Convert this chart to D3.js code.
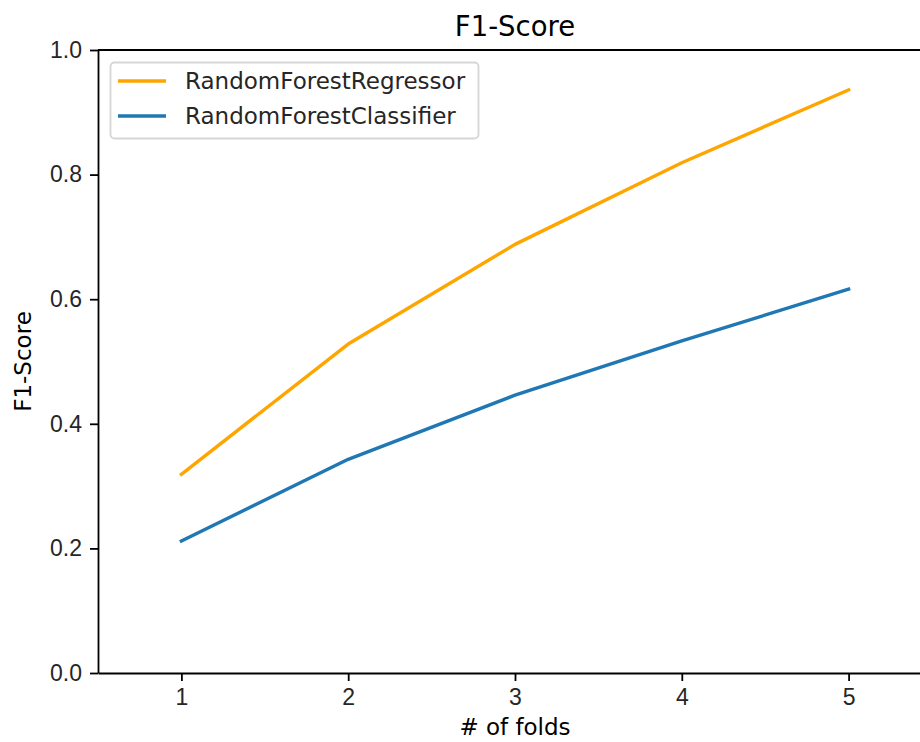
<!DOCTYPE html>
<head>
  <meta charset="utf-8">
  <script src="https://d3js.org/d3.v7.min.js"></script>
  <style>
    body { margin: 0; background: #fff; }
    svg { display: block; font-family: "DejaVu Sans", sans-serif; }
    .axis text { font-size: 23px; fill: #262626; }
    .axis path, .axis line { stroke: #000; stroke-width: 1.8px; }
  </style>
</head>
<body>
  <svg width="920" height="742"></svg>
  <script>
    // data
    var folds = [1, 2, 3, 4, 5];
    var regressorF1 = [0.319, 0.528, 0.688, 0.819, 0.936];
    var classifierF1 = [0.212, 0.343, 0.446, 0.533, 0.616];
    var yTicks = [0, 0.2, 0.4, 0.6, 0.8, 1.0];
    var seriesNames = ['RandomForestRegressor', 'RandomForestClassifier'];
    var seriesColors = ['orange', '#1f77b4'];

    var svg = d3.select('svg');
    var plotLeft = 98, plotRight = 932, plotTop = 50, plotBottom = 673;

    var x = d3.scaleLinear().domain([0.5, 5.5]).range([plotLeft, plotRight]);
    var y = d3.scaleLinear().domain([0, 1]).range([plotBottom, plotTop]);

    // top spine (right spine falls outside the picture)
    svg.append('line')
      .attr('x1', plotLeft).attr('x2', plotRight)
      .attr('y1', plotTop).attr('y2', plotTop)
      .attr('stroke', '#000').attr('stroke-width', 1.8);

    svg.append('g')
      .attr('class', 'axis')
      .attr('transform', 'translate(0,' + plotBottom + ')')
      .call(d3.axisBottom(x).tickValues(folds).tickFormat(d3.format('d'))
        .tickSize(8).tickPadding(8).tickSizeOuter(0));

    svg.append('g')
      .attr('class', 'axis')
      .attr('transform', 'translate(' + plotLeft + ',0)')
      .call(d3.axisLeft(y).tickValues(yTicks).tickFormat(d3.format('.1f'))
        .tickSize(8).tickPadding(8).tickSizeOuter(0));

    var line = d3.line()
      .x(function(d, i) { return x(folds[i]); })
      .y(function(d) { return y(d); });

    [regressorF1, classifierF1].forEach(function(vals, i) {
      svg.append('path')
        .datum(vals)
        .attr('fill', 'none')
        .attr('stroke', seriesColors[i])
        .attr('stroke-width', 3.4)
        .attr('stroke-linejoin', 'round')
        .attr('stroke-linecap', 'square')
        .attr('d', line);
    });

    // title and axis labels
    svg.append('text')
      .attr('x', (plotLeft + plotRight) / 2).attr('y', 36)
      .attr('text-anchor', 'middle')
      .style('font-size', '27.5px').style('fill', '#000')
      .text('F1-Score');

    svg.append('text')
      .attr('x', (plotLeft + plotRight) / 2).attr('y', 735)
      .attr('text-anchor', 'middle')
      .style('font-size', '23px').style('fill', '#000')
      .text('# of folds');

    svg.append('text')
      .attr('transform', 'translate(31,' + ((plotTop + plotBottom) / 2) + ')rotate(-90)')
      .attr('text-anchor', 'middle')
      .style('font-size', '23px').style('fill', '#000')
      .text('F1-Score');

    // legend
    var legend = svg.append('g').attr('transform', 'translate(110,62)');
    legend.append('rect')
      .attr('x', 0.5).attr('y', 0.5)
      .attr('width', 368).attr('height', 76)
      .attr('rx', 4)
      .attr('fill', '#fff').attr('fill-opacity', 0.8)
      .attr('stroke', '#d6d6d6').attr('stroke-width', 1.8);

    seriesNames.forEach(function(name, i) {
      var ly = 19 + i * 35;
      legend.append('line')
        .attr('x1', 8).attr('x2', 56)
        .attr('y1', ly).attr('y2', ly)
        .attr('stroke', seriesColors[i]).attr('stroke-width', 3.4);
      legend.append('text')
        .attr('x', 75).attr('y', ly)
        .attr('dominant-baseline', 'central')
        .style('font-size', '23px').style('fill', '#262626')
        .text(name);
    });
  </script>
</body>
